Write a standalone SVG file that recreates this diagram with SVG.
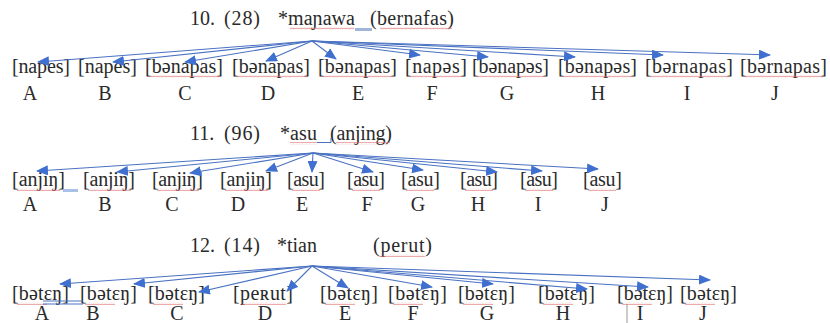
<svg xmlns="http://www.w3.org/2000/svg" width="830" height="323" viewBox="0 0 830 323">
<style>
.t{font-family:"Liberation Serif","DejaVu Serif",serif;font-size:20px;fill:#2a2a2a}
.l{font-family:"Liberation Serif","DejaVu Serif",serif;font-size:20px;fill:#2a2a2a;text-anchor:middle}
.c{stroke:#4a72c2;stroke-width:1.1;fill:none;marker-end:url(#ah)}
.sq{fill:url(#wave)}
</style>
<defs>
<marker id="ah" markerUnits="userSpaceOnUse" markerWidth="12" markerHeight="10" refX="11" refY="5" orient="auto">
<path d="M0,0 L12,5 L0,10 z" fill="#3f6fcf"/>
</marker>
<pattern id="wave" patternUnits="userSpaceOnUse" width="4" height="3">
<path d="M0,2.2 L1,0.8 L2,2.2 L3,0.8 L4,2.2" stroke="#e07070" stroke-width="0.6" fill="none"/>
</pattern>
</defs>
<rect width="830" height="323" fill="#fff"/>

<!-- Section 10 -->
<g id="title10">
<text class="t" x="190" y="25">10.</text>
<text class="t" x="224" y="25" textLength="36">(28)</text>
<text class="t" x="278" y="25" textLength="77">*maɲawa</text>
<text class="t" x="370" y="25" textLength="84">(bernafas)</text>
<rect x="290" y="27" width="64" height="3" class="sq"/>
<rect x="380" y="27" width="72" height="3" class="sq"/>
<rect x="355" y="28" width="17" height="3" fill="#9fb6da"/>
</g>
<g id="n10A"><text class="t" x="12" y="73" textLength="58">[napes]</text><text class="l" x="30" y="100">A</text></g>
<g id="n10B"><text class="t" x="78" y="73" textLength="59">[napes]</text><text class="l" x="105" y="100">B</text></g>
<g id="n10C"><text class="t" x="145" y="73" textLength="78">[bənapas]</text><rect x="150" y="75" width="70" height="3" class="sq"/><text class="l" x="185" y="100">C</text></g>
<g id="n10D"><text class="t" x="232" y="73" textLength="78">[bənapas]</text><rect x="237" y="75" width="70" height="3" class="sq"/><text class="l" x="268" y="100">D</text></g>
<g id="n10E"><text class="t" x="318" y="73" textLength="79">[bənapas]</text><rect x="323" y="75" width="70" height="3" class="sq"/><text class="l" x="358" y="100">E</text></g>
<g id="n10F"><text class="t" x="405" y="73" textLength="62">[napəs]</text><rect x="410" y="75" width="52" height="3" class="sq"/><text class="l" x="432" y="100">F</text></g>
<g id="n10G"><text class="t" x="472" y="73" textLength="77">[bənapəs]</text><rect x="477" y="75" width="68" height="3" class="sq"/><text class="l" x="507" y="100">G</text></g>
<g id="n10H"><text class="t" x="558" y="73" textLength="79">[bənapəs]</text><rect x="563" y="75" width="70" height="3" class="sq"/><text class="l" x="598" y="100">H</text></g>
<g id="n10I"><text class="t" x="645" y="73" textLength="88">[bərnapas]</text><rect x="650" y="75" width="79" height="3" class="sq"/><text class="l" x="687" y="100">I</text></g>
<g id="n10J"><text class="t" x="740" y="73" textLength="87">[bərnapas]</text><rect x="745" y="75" width="78" height="3" class="sq"/><text class="l" x="775" y="100">J</text></g>

<!-- Section 11 -->
<g id="title11">
<text class="t" x="190" y="140">11.</text>
<text class="t" x="224" y="140" textLength="36">(96)</text>
<text class="t" x="280" y="140" textLength="37">*asu</text>
<text class="t" x="330" y="140" textLength="62">(anjing)</text>
<rect x="290" y="142" width="27" height="3" class="sq"/>
<rect x="336" y="142" width="54" height="3" class="sq"/>
<path d="M317,142.5 H331 V138" stroke="#4a72c2" stroke-width="1" fill="none"/>
</g>
<g id="n11A"><text class="t" x="12" y="186" textLength="53">[anjiŋ]</text><rect x="17" y="188" width="43" height="3" class="sq"/><rect x="63" y="189" width="15" height="3" fill="#a9c1e6"/><text class="l" x="30" y="211">A</text></g>
<g id="n11B"><text class="t" x="83" y="186" textLength="52">[anjiŋ]</text><rect x="88" y="188" width="43" height="3" class="sq"/><text class="l" x="105" y="211">B</text></g>
<g id="n11C"><text class="t" x="152" y="186" textLength="51">[anjiŋ]</text><rect x="157" y="188" width="42" height="3" class="sq"/><text class="l" x="172" y="211">C</text></g>
<g id="n11D"><text class="t" x="220" y="186" textLength="52">[anjiŋ]</text><rect x="225" y="188" width="43" height="3" class="sq"/><text class="l" x="238" y="211">D</text></g>
<g id="n11E"><text class="t" x="287" y="186" textLength="38">[asu]</text><rect x="292" y="188" width="28" height="3" class="sq"/><text class="l" x="302" y="211">E</text></g>
<g id="n11F"><text class="t" x="347" y="186" textLength="38">[asu]</text><rect x="352" y="188" width="28" height="3" class="sq"/><text class="l" x="367" y="211">F</text></g>
<g id="n11G"><text class="t" x="401" y="186" textLength="39">[asu]</text><rect x="406" y="188" width="28" height="3" class="sq"/><text class="l" x="418" y="211">G</text></g>
<g id="n11H"><text class="t" x="460" y="186" textLength="38">[asu]</text><rect x="465" y="188" width="28" height="3" class="sq"/><text class="l" x="478" y="211">H</text></g>
<g id="n11I"><text class="t" x="520" y="186" textLength="38">[asu]</text><rect x="525" y="188" width="28" height="3" class="sq"/><text class="l" x="538" y="211">I</text></g>
<g id="n11J"><text class="t" x="583" y="186" textLength="39">[asu]</text><rect x="588" y="188" width="28" height="3" class="sq"/><text class="l" x="605" y="211">J</text></g>

<!-- Section 12 -->
<g id="title12">
<text class="t" x="190" y="252">12.</text>
<text class="t" x="224" y="252" textLength="36">(14)</text>
<text class="t" x="277" y="252" textLength="40">*tian</text>
<text class="t" x="373" y="252" textLength="59">(perut)</text>
<rect x="379" y="254" width="46" height="3" class="sq"/>
</g>
<g id="n12A"><text class="t" x="12" y="300" textLength="57">[bətɛŋ]</text><rect x="17" y="302" width="30" height="3" class="sq"/><text class="l" x="42" y="320">A</text></g>
<g id="n12B"><text class="t" x="80" y="300" textLength="57">[bətɛŋ]</text><rect x="85" y="302" width="30" height="3" class="sq"/><text class="l" x="93" y="320">B</text></g>
<g id="n12C"><text class="t" x="148" y="300" textLength="57">[bətɛŋ]</text><rect x="153" y="302" width="30" height="3" class="sq"/><text class="l" x="177" y="320">C</text></g>
<g id="n12D"><text class="t" x="233" y="300" textLength="60">[peʀut]</text><rect x="242" y="302" width="44" height="3" class="sq"/><text class="l" x="265" y="320">D</text></g>
<g id="n12E"><text class="t" x="320" y="300" textLength="58">[bətɛŋ]</text><rect x="325" y="302" width="30" height="3" class="sq"/><text class="l" x="345" y="320">E</text></g>
<g id="n12F"><text class="t" x="388" y="300" textLength="59">[bətɛŋ]</text><rect x="393" y="302" width="30" height="3" class="sq"/><text class="l" x="413" y="320">F</text></g>
<g id="n12G"><text class="t" x="458" y="300" textLength="57">[bətɛŋ]</text><rect x="463" y="302" width="30" height="3" class="sq"/><text class="l" x="487" y="320">G</text></g>
<g id="n12H"><text class="t" x="538" y="300" textLength="57">[bətɛŋ]</text><rect x="543" y="302" width="30" height="3" class="sq"/><text class="l" x="563" y="320">H</text></g>
<g id="n12I"><text class="t" x="617" y="300" textLength="56">[bətɛŋ]</text><rect x="622" y="302" width="30" height="3" class="sq"/><text class="l" x="640" y="320">I</text></g>
<g id="n12J"><text class="t" x="680" y="300" textLength="57">[bətɛŋ]</text><rect x="685" y="302" width="30" height="3" class="sq"/><text class="l" x="703" y="320">J</text></g>
<g id="marks12">
<path d="M43,301 H83 M43,304 H83" stroke="#4a72c2" stroke-width="1"/>
<path d="M627,304 V323" stroke="#999" stroke-width="1"/>
</g>

<g id="connectors">
<path class="c" d="M312,41 L38,62"/>
<path class="c" d="M312,41 L113,62"/>
<path class="c" d="M312,41 L185,62"/>
<path class="c" d="M312,41 L266,61"/>
<path class="c" d="M312,41 L336,59"/>
<path class="c" d="M312,41 L420,55"/>
<path class="c" d="M312,41 L488,57"/>
<path class="c" d="M312,41 L575,57"/>
<path class="c" d="M312,41 L663,55"/>
<path class="c" d="M312,41 L770,55"/>

<path class="c" d="M313,153 L37,171"/>
<path class="c" d="M313,153 L117,172"/>
<path class="c" d="M313,153 L190,173"/>
<path class="c" d="M313,153 L266,171"/>
<path class="c" d="M313,153 L312,172"/>
<path class="c" d="M313,153 L373,172"/>
<path class="c" d="M313,153 L423,170"/>
<path class="c" d="M313,153 L497,172"/>
<path class="c" d="M313,153 L542,171"/>
<path class="c" d="M313,153 L598,169"/>

<path class="c" d="M312,266 L60,284"/>
<path class="c" d="M312,266 L134,284"/>
<path class="c" d="M312,266 L199,292"/>
<path class="c" d="M312,266 L287,291"/>
<path class="c" d="M312,266 L348,288"/>
<path class="c" d="M312,266 L432,287"/>
<path class="c" d="M312,266 L493,284"/>
<path class="c" d="M312,266 L587,289"/>
<path class="c" d="M312,266 L648,287"/>
<path class="c" d="M312,266 L710,280"/>
</g>
</svg>
